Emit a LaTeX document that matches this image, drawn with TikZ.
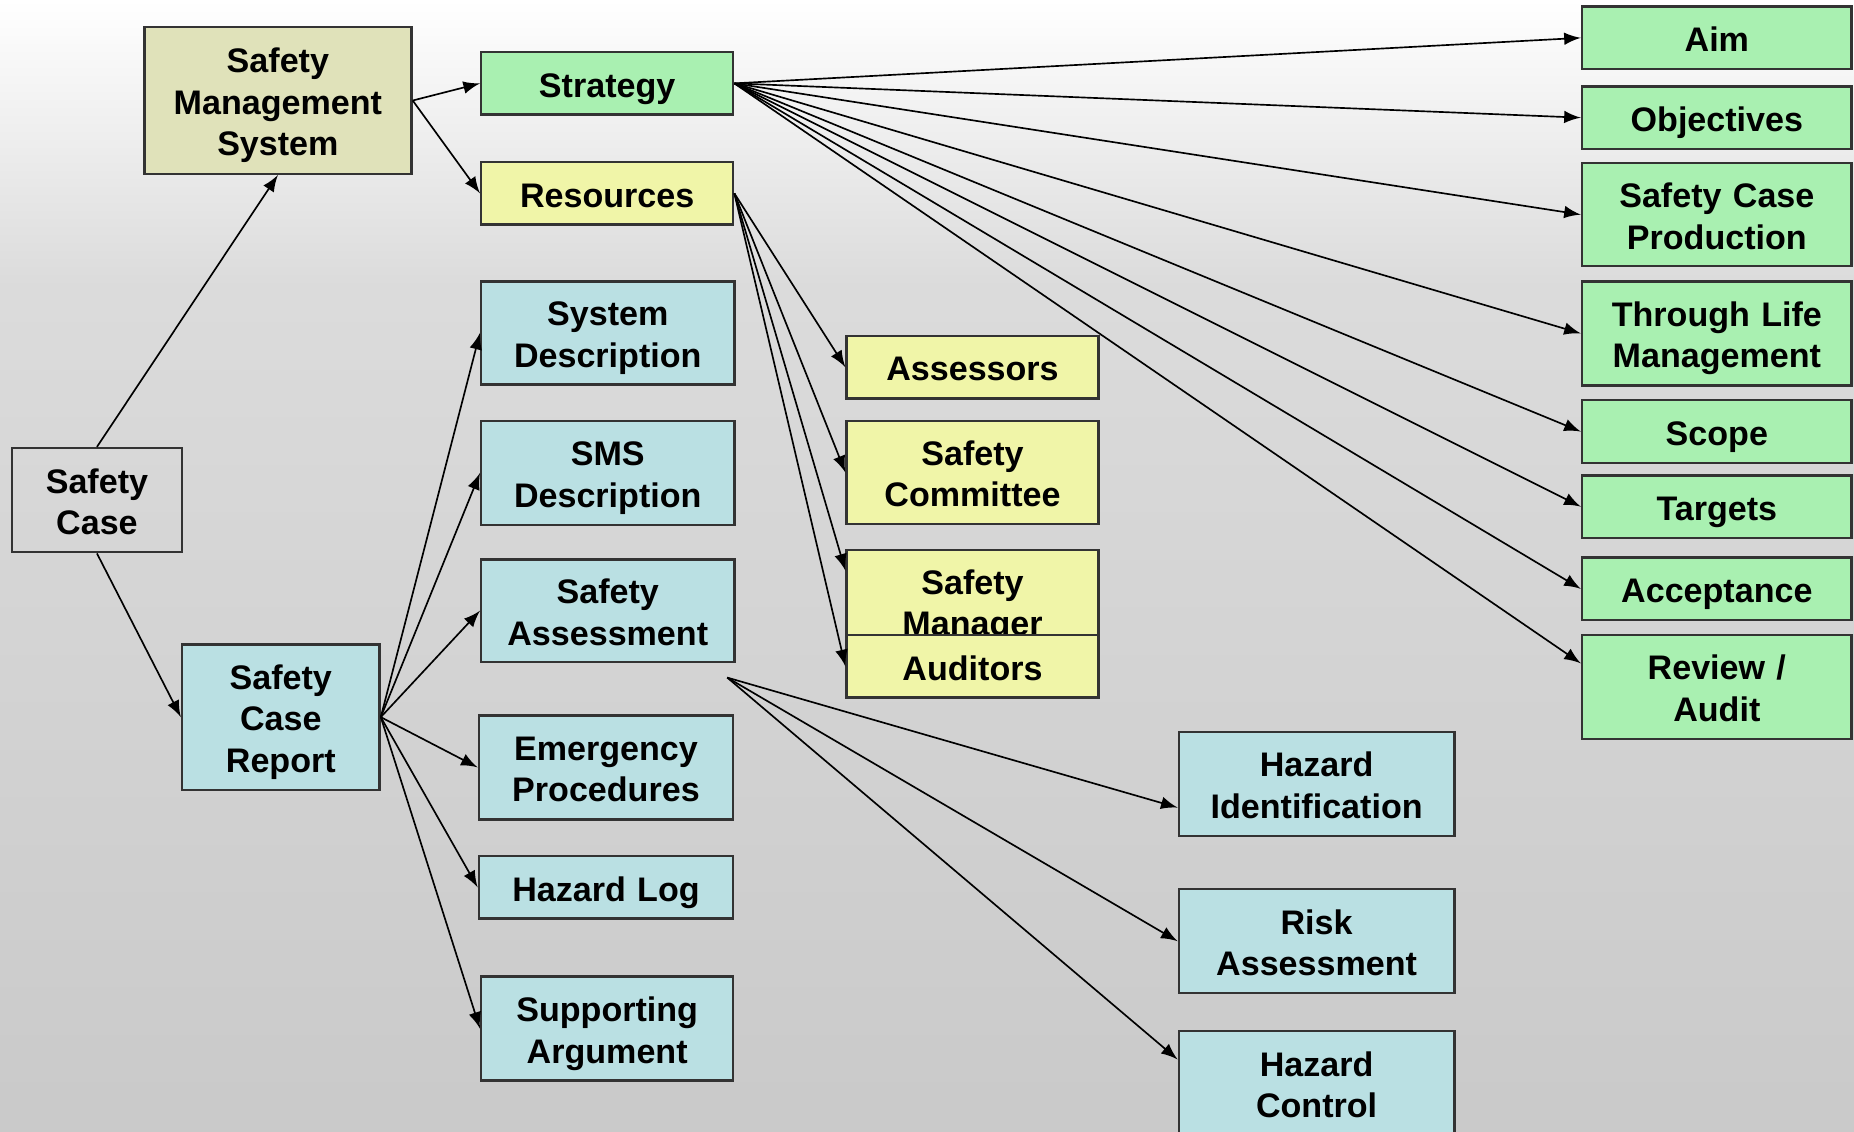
\documentclass[tikz,border=0pt]{standalone}
\usepackage{fontspec}
\setmainfont{Liberation Sans}
\usetikzlibrary{arrows}
\definecolor{mgmtfill}{RGB}{224,226,186}
\definecolor{goalfill}{RGB}{169,240,177}
\definecolor{resfill}{RGB}{240,245,168}
\definecolor{repfill}{RGB}{186,224,227}
\tikzstyle{root} = [rectangle, minimum width=1.44cm, minimum height=8.8mm, text width=1.3cm, inner sep=1pt, align=center, draw=black!80, line width=0.6pt]
\tikzstyle{mgmt} = [rectangle, minimum width=2.26cm, minimum height=12.4mm, text width=2.1cm, inner sep=1pt, align=center, draw=black!80, line width=0.6pt, fill=mgmtfill]
\tikzstyle{goal} = [rectangle, minimum width=2.28cm, minimum height=5.3mm, text width=2.0cm, inner sep=1pt, align=center, draw=black!80, line width=0.6pt, fill=goalfill]
\tikzstyle{resource} = [rectangle, minimum width=2.13cm, minimum height=5.3mm, text width=2.0cm, inner sep=1pt, align=center, draw=black!80, line width=0.6pt, fill=resfill]
\tikzstyle{report} = [rectangle, minimum width=2.14cm, minimum height=5.3mm, text width=2.0cm, inner sep=1pt, align=center, draw=black!80, line width=0.6pt, fill=repfill]
\tikzstyle{arrow} = [->,>=latex, line width=0.4pt]

\begin{document}
\begin{tikzpicture}[x=0.1mm, y=-0.1mm, font=\fontsize{8.2}{10}\selectfont\bfseries,
  execute at begin node={\rule{0pt}{8.3pt}}, execute at end node={\rule[-1.7pt]{0pt}{1.7pt}}]
\useasboundingbox (0,0) rectangle (1568,957);
% background
\shade[top color=white, bottom color=black!14] (0,0) rectangle (1568,240);
\shade[top color=black!14, bottom color=black!21] (0,240) rectangle (1568,957);

\node (safetycase) [root] at (82,423) {Safety\\Case};
\node (sms) [mgmt] at (235,85) {Safety\\Management\\System};
\node (scr) [report, minimum width=1.67cm, minimum height=12.3mm, text width=1.5cm] at (237.5,606.5) {Safety\\Case\\Report};

\node (strategy) [goal, minimum width=2.13cm] at (513.5,70.5) {Strategy};
\node (resources) [resource] at (513.5,163.5) {Resources};

\node (sysdesc) [report, minimum height=8.7mm] at (514,281.5) {System\\Description};
\node (smsdesc) [report, minimum height=8.8mm] at (514,400) {SMS\\Description};
\node (safeassess) [report, minimum height=8.7mm] at (514,516.5) {Safety\\Assessment};
\node (emergency) [report, minimum width=2.15cm, minimum height=8.8mm] at (512.5,649) {Emergency\\Procedures};
\node (hazlog) [report, minimum width=2.15cm] at (512.5,750.5) {Hazard Log};
\node (supporting) [report, minimum width=2.13cm, minimum height=8.8mm] at (513.5,870) {Supporting\\Argument};

\node (assessors) [resource] at (822.5,310.5) {Assessors};
\node (committee) [resource, minimum height=8.7mm] at (822.5,399.5) {Safety\\Committee};
\node (manager) [resource, minimum height=8.7mm] at (822.5,508.5) {Safety\\Manager};
\node (auditors) [resource] at (822.5,563.5) {Auditors};

\node (hazid) [report, minimum width=2.33cm, minimum height=8.8mm] at (1113.5,663) {Hazard\\Identification};
\node (riskass) [report, minimum width=2.33cm, minimum height=8.8mm] at (1113.5,796) {Risk\\Assessment};
\node (hazctrl) [report, minimum width=2.33cm, minimum height=8.8mm] at (1113.5,916) {Hazard\\Control};

\node (aim) [goal] at (1452,32) {Aim};
\node (objectives) [goal] at (1452,99.5) {Objectives};
\node (scprod) [goal, minimum height=8.7mm] at (1452,181.5) {Safety Case\\Production};
\node (tlm) [goal, minimum height=8.8mm] at (1452,282) {Through Life\\Management};
\node (scope) [goal] at (1452,365) {Scope};
\node (targets) [goal] at (1452,428.5) {Targets};
\node (acceptance) [goal] at (1452,498) {Acceptance};
\node (review) [goal, minimum height=8.8mm] at (1452,581) {Review /\\Audit};

\coordinate (safork) at ([xshift=-0.7mm, yshift=-1.2mm]safeassess.south east);

\draw [arrow] (safetycase.north) -- (sms.south);
\draw [arrow] (safetycase.south) -- (scr.west);
\draw [arrow] (sms.east) -- (strategy.west);
\draw [arrow] (sms.east) -- (resources.west);

\draw [arrow] (strategy.east) -- (aim.west);
\draw [arrow] (strategy.east) -- (objectives.west);
\draw [arrow] (strategy.east) -- (scprod.west);
\draw [arrow] (strategy.east) -- (tlm.west);
\draw [arrow] (strategy.east) -- (scope.west);
\draw [arrow] (strategy.east) -- (targets.west);
\draw [arrow] (strategy.east) -- (acceptance.west);
\draw [arrow] (strategy.east) -- ([yshift=2mm]review.west);

\draw [arrow] (resources.east) -- (assessors.west);
\draw [arrow] (resources.east) -- (committee.west);
\draw [arrow] (resources.east) -- ([yshift=2.6mm]manager.west);
\draw [arrow] (resources.east) -- (auditors.west);

\draw [arrow] (scr.east) -- (sysdesc.west);
\draw [arrow] (scr.east) -- (smsdesc.west);
\draw [arrow] (scr.east) -- (safeassess.west);
\draw [arrow] (scr.east) -- (emergency.west);
\draw [arrow] (scr.east) -- (hazlog.west);
\draw [arrow] (scr.east) -- (supporting.west);

\draw [arrow] (safork) -- ([yshift=-2mm]hazid.west);
\draw [arrow] (safork) -- (riskass.west);
\draw [arrow] (safork) -- ([yshift=2mm]hazctrl.west);

\end{tikzpicture}
\end{document}
